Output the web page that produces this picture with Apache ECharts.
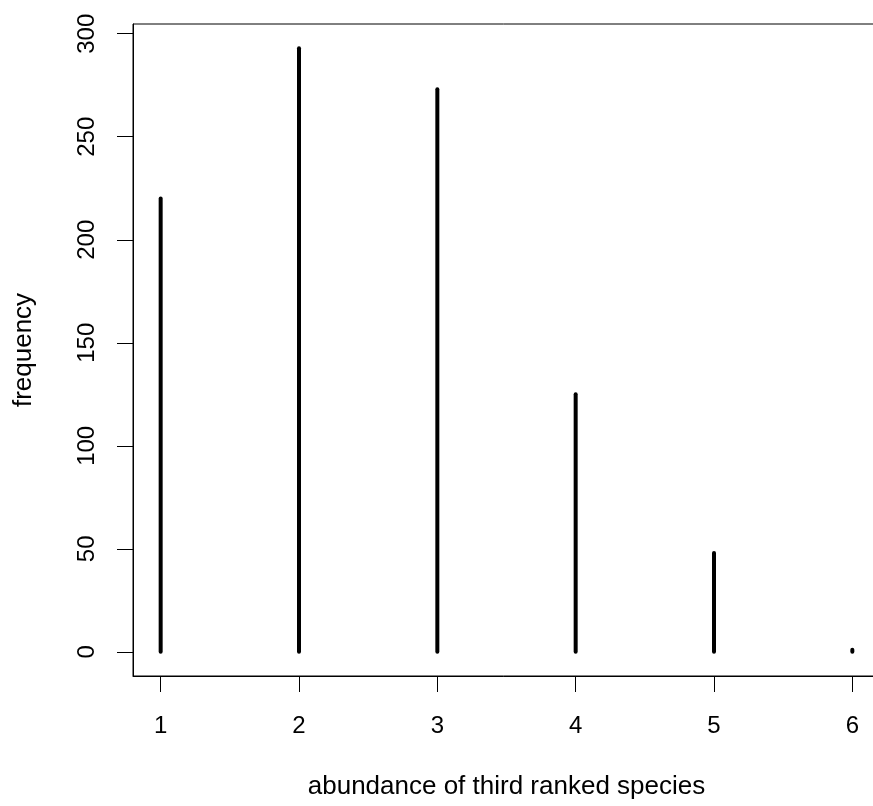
<!DOCTYPE html>
<html>
<head>
<meta charset="utf-8">
<script src="https://cdn.jsdelivr.net/npm/echarts@6/dist/echarts.min.js"></script>
<style>
  html, body { margin: 0; padding: 0; background: #fff; }
  #chart { width: 873px; height: 806px; }
</style>
</head>
<body>
<div id="chart"></div>
<script>
// abundance of third ranked species -> frequency
const abundance = [1, 2, 3, 4, 5, 6];
const frequency = [220, 293, 273, 125, 48, 1];
const xTicks = [1, 2, 3, 4, 5, 6];
const yTicks = [0, 50, 100, 150, 200, 250, 300];

const font = "Liberation Sans, Arial, sans-serif";
const yMax = Math.max(...frequency);

const myChart = echarts.init(document.getElementById("chart"));
const option = {
  animation: false,
  backgroundColor: "#fff",
  grid: {
    left: 133,
    top: 24,
    width: 747, // runs past the right edge, like the original
    height: 652,
    outerBoundsMode: "none",
    containLabel: false,
    show: true,
    borderColor: "#000",
    borderWidth: 1,
    backgroundColor: "transparent",
  },
  xAxis: {
    type: "value",
    min: 0.8, // R style 4% padding
    max: 6.2,
    name: "abundance of third ranked species",
    nameLocation: "middle",
    nameGap: 98,
    nameTextStyle: { fontFamily: font, fontSize: 26, color: "#000" },
    axisLine: { show: true, onZero: false, lineStyle: { color: "#000", width: 1 } },
    axisTick: { show: true, length: 16, customValues: xTicks, lineStyle: { color: "#000" } },
    axisLabel: {
      customValues: xTicks,
      margin: 38,
      fontFamily: font,
      fontSize: 24,
      color: "#000",
    },
    splitLine: { show: false },
  },
  yAxis: {
    type: "value",
    min: -0.04 * yMax,
    max: 1.04 * yMax,
    name: "frequency",
    nameLocation: "middle",
    nameGap: 96,
    nameRotate: 90,
    nameTextStyle: { fontFamily: font, fontSize: 26, color: "#000" },
    axisLine: { show: true, onZero: false, lineStyle: { color: "#000", width: 1 } },
    axisTick: { show: true, length: 16, customValues: yTicks, lineStyle: { color: "#000" } },
    axisLabel: {
      customValues: yTicks,
      rotate: 90,
      margin: 34,
      fontFamily: font,
      fontSize: 24,
      color: "#000",
    },
    splitLine: { show: false },
  },
  series: [
    {
      type: "custom",
      data: abundance.map((a, i) => [a, frequency[i]]),
      renderItem: function (params, api) {
        const p0 = api.coord([api.value(0), 0]);
        const p1 = api.coord([api.value(0), api.value(1)]);
        return {
          type: "line",
          shape: { x1: p0[0], y1: p0[1], x2: p1[0], y2: p1[1] },
          style: { stroke: "#000", lineWidth: 4, lineCap: "round" },
        };
      },
    },
  ],
};
myChart.setOption(option);
</script>
</body>
</html>
